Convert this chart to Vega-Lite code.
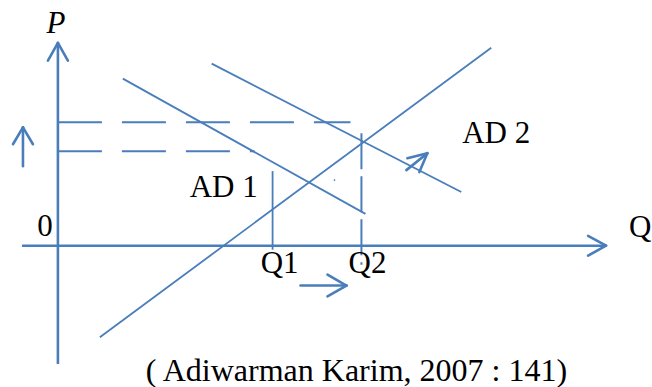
{
  "$schema": "https://vega.github.io/schema/vega-lite/v6.json",
  "width": 652,
  "height": 387,
  "padding": 0,
  "autosize": {"type": "fit", "contains": "padding"},
  "background": "white",
  "config": {"view": {"stroke": null}},
  "datasets": {
    "axes": [
      {"part": "P axis", "q": 0, "p": -119, "q2": 0, "p2": 204},
      {"part": "Q axis", "q": -36, "p": 0, "q2": 549, "p2": 0}
    ],
    "heads": [
      {"part": "P head L", "q": -10, "p": 186, "q2": 0, "p2": 204},
      {"part": "P head R", "q": 10, "p": 186, "q2": 0, "p2": 204},
      {"part": "Q head U", "q": 531, "p": 10, "q2": 549, "p2": 0},
      {"part": "Q head D", "q": 531, "p": -10, "q2": 549, "p2": 0},
      {"part": "price up", "q": -35, "p": 80, "q2": -35, "p2": 119},
      {"part": "price up L", "q": -45, "p": 102, "q2": -35, "p2": 119},
      {"part": "price up R", "q": -25, "p": 102, "q2": -35, "p2": 119},
      {"part": "qty right", "q": 243, "p": -40, "q2": 289, "p2": -40},
      {"part": "qty right U", "q": 270, "p": -29, "q2": 289, "p2": -40},
      {"part": "qty right D", "q": 270, "p": -51, "q2": 289, "p2": -40},
      {"part": "shift", "q": 349, "p": 76, "q2": 370, "p2": 93},
      {"part": "shift L", "q": 350, "p": 88, "q2": 370, "p2": 93},
      {"part": "shift R", "q": 362, "p": 74, "q2": 370, "p2": 93}
    ],
    "curves": [
      {"part": "AS", "q": 42, "p": -92, "q2": 434, "p2": 199},
      {"part": "AD 1", "q": 65, "p": 168, "q2": 308, "p2": 32},
      {"part": "AD 2", "q": 154, "p": 183, "q2": 404, "p2": 54},
      {"part": "Q1 line", "q": 215, "p": 75, "q2": 215, "p2": -4}
    ],
    "hguides": [
      {"part": "P2", "q": 0, "p": 124, "q2": 293, "p2": 124},
      {"part": "P1", "q": 0, "p": 95, "q2": 197, "p2": 95}
    ],
    "vguides": [
      {"part": "Q2 line", "q": 304, "p": 113, "q2": 304, "p2": -19}
    ],
    "dots": [
      {"q": 277, "p": 66}
    ],
    "labels": [
      {"label": "0", "q": -13, "p": 10},
      {"label": "Q1", "q": 222, "p": -27},
      {"label": "Q2", "q": 310, "p": -27},
      {"label": "AD 1", "q": 166, "p": 49},
      {"label": "AD 2", "q": 439, "p": 103}
    ],
    "qlabel": [
      {"label": "Q", "q": 572, "p": 9}
    ],
    "plabel": [
      {"label": "P", "q": -2, "p": 214}
    ],
    "caption": [
      {"label": "( Adiwarman Karim, 2007 : 141)", "q": 299, "p": -136}
    ]
  },
  "layer": [
    {
      "data": {"name": "axes"},
      "mark": {"type": "rule", "color": "#4a7ebb", "strokeWidth": 2.6},
      "encoding": {
        "x": {"field": "q", "type": "quantitative", "scale": {"domain": [-58, 594], "nice": false, "zero": false}, "axis": null},
        "y": {"field": "p", "type": "quantitative", "scale": {"domain": [-140, 247], "nice": false, "zero": false}, "axis": null},
        "x2": {"field": "q2"},
        "y2": {"field": "p2"}
      }
    },
    {
      "data": {"name": "heads"},
      "mark": {"type": "rule", "color": "#4a7ebb", "strokeWidth": 2.6, "strokeCap": "round"},
      "encoding": {
        "x": {"field": "q", "type": "quantitative", "scale": {"domain": [-58, 594], "nice": false, "zero": false}, "axis": null},
        "y": {"field": "p", "type": "quantitative", "scale": {"domain": [-140, 247], "nice": false, "zero": false}, "axis": null},
        "x2": {"field": "q2"},
        "y2": {"field": "p2"}
      }
    },
    {
      "data": {"name": "curves"},
      "mark": {"type": "rule", "color": "#4a7ebb", "strokeWidth": 1.8},
      "encoding": {
        "x": {"field": "q", "type": "quantitative", "scale": {"domain": [-58, 594], "nice": false, "zero": false}, "axis": null},
        "y": {"field": "p", "type": "quantitative", "scale": {"domain": [-140, 247], "nice": false, "zero": false}, "axis": null},
        "x2": {"field": "q2"},
        "y2": {"field": "p2"}
      }
    },
    {
      "data": {"name": "hguides"},
      "mark": {"type": "rule", "color": "#4a7ebb", "strokeWidth": 2, "strokeDash": [44, 20]},
      "encoding": {
        "x": {"field": "q", "type": "quantitative", "scale": {"domain": [-58, 594], "nice": false, "zero": false}, "axis": null},
        "y": {"field": "p", "type": "quantitative", "scale": {"domain": [-140, 247], "nice": false, "zero": false}, "axis": null},
        "x2": {"field": "q2"},
        "y2": {"field": "p2"}
      }
    },
    {
      "data": {"name": "vguides"},
      "mark": {"type": "rule", "color": "#4a7ebb", "strokeWidth": 2, "strokeDash": [36, 7]},
      "encoding": {
        "x": {"field": "q", "type": "quantitative", "scale": {"domain": [-58, 594], "nice": false, "zero": false}, "axis": null},
        "y": {"field": "p", "type": "quantitative", "scale": {"domain": [-140, 247], "nice": false, "zero": false}, "axis": null},
        "x2": {"field": "q2"},
        "y2": {"field": "p2"}
      }
    },
    {
      "data": {"name": "dots"},
      "mark": {"type": "point", "filled": true, "color": "#4a7ebb", "size": 3, "opacity": 1},
      "encoding": {
        "x": {"field": "q", "type": "quantitative", "scale": {"domain": [-58, 594], "nice": false, "zero": false}, "axis": null},
        "y": {"field": "p", "type": "quantitative", "scale": {"domain": [-140, 247], "nice": false, "zero": false}, "axis": null}
      }
    },
    {
      "data": {"name": "labels"},
      "mark": {"type": "text", "font": "Liberation Serif", "fontSize": 31, "color": "black", "align": "center", "baseline": "alphabetic"},
      "encoding": {
        "x": {"field": "q", "type": "quantitative", "scale": {"domain": [-58, 594], "nice": false, "zero": false}, "axis": null},
        "y": {"field": "p", "type": "quantitative", "scale": {"domain": [-140, 247], "nice": false, "zero": false}, "axis": null},
        "text": {"field": "label"}
      }
    },
    {
      "data": {"name": "qlabel"},
      "mark": {"type": "text", "font": "Liberation Serif", "fontSize": 31, "color": "black", "align": "left", "baseline": "alphabetic"},
      "encoding": {
        "x": {"field": "q", "type": "quantitative", "scale": {"domain": [-58, 594], "nice": false, "zero": false}, "axis": null},
        "y": {"field": "p", "type": "quantitative", "scale": {"domain": [-140, 247], "nice": false, "zero": false}, "axis": null},
        "text": {"field": "label"}
      }
    },
    {
      "data": {"name": "plabel"},
      "mark": {"type": "text", "font": "Liberation Serif", "fontSize": 31, "fontStyle": "italic", "color": "black", "align": "center", "baseline": "alphabetic"},
      "encoding": {
        "x": {"field": "q", "type": "quantitative", "scale": {"domain": [-58, 594], "nice": false, "zero": false}, "axis": null},
        "y": {"field": "p", "type": "quantitative", "scale": {"domain": [-140, 247], "nice": false, "zero": false}, "axis": null},
        "text": {"field": "label"}
      }
    },
    {
      "data": {"name": "caption"},
      "mark": {"type": "text", "font": "Liberation Serif", "fontSize": 32, "color": "black", "align": "center", "baseline": "alphabetic"},
      "encoding": {
        "x": {"field": "q", "type": "quantitative", "scale": {"domain": [-58, 594], "nice": false, "zero": false}, "axis": null},
        "y": {"field": "p", "type": "quantitative", "scale": {"domain": [-140, 247], "nice": false, "zero": false}, "axis": null},
        "text": {"field": "label"}
      }
    }
  ]
}
